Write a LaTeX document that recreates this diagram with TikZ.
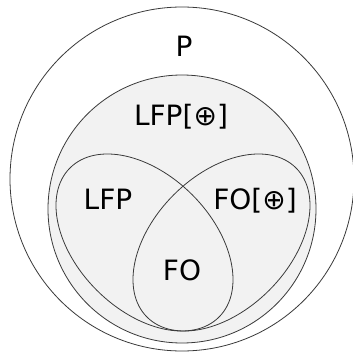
\documentclass[tikz,border=0pt]{standalone}
\usepackage{fontspec}
\setmainfont{DejaVu Sans}
\usepackage{xcolor}
\usepackage{tikz}
\definecolor{setgray}{HTML}{F2F2F2}
\definecolor{setline}{HTML}{3A3A3A}

\begin{document}
\begin{tikzpicture}[
  x=1pt, y=1pt,
  setborder/.style={draw=setline, line width=0.8pt},
  setlabel/.style={anchor=base, inner sep=0pt, font=\fontsize{28}{34}\selectfont}
]
\useasboundingbox (0,0) rectangle (353,354);
% outer class P
\draw[setborder, fill=white] (182,175) circle[radius=172];
% LFP[+] region
\draw[setborder, fill=setgray] (182,145) circle[radius=134];
% LFP and FO[+] loops, FO is their overlap
\draw[setborder] (144.5,111.5) ellipse[x radius=105.4, y radius=67.5, rotate=-45];
\draw[setborder] (221.5,111.5) ellipse[x radius=105.4, y radius=67.5, rotate=45];
\node[setlabel] (P) at (184,297) {P};
\node[setlabel] (LFPplus) at (181,228) {LFP[⊕]};
\node[setlabel] (LFP) at (108,144) {LFP};
\node[setlabel] (FOplus) at (255,144) {FO[⊕]};
\node[setlabel] (FO) at (182,74) {FO};
\end{tikzpicture}
\end{document}
